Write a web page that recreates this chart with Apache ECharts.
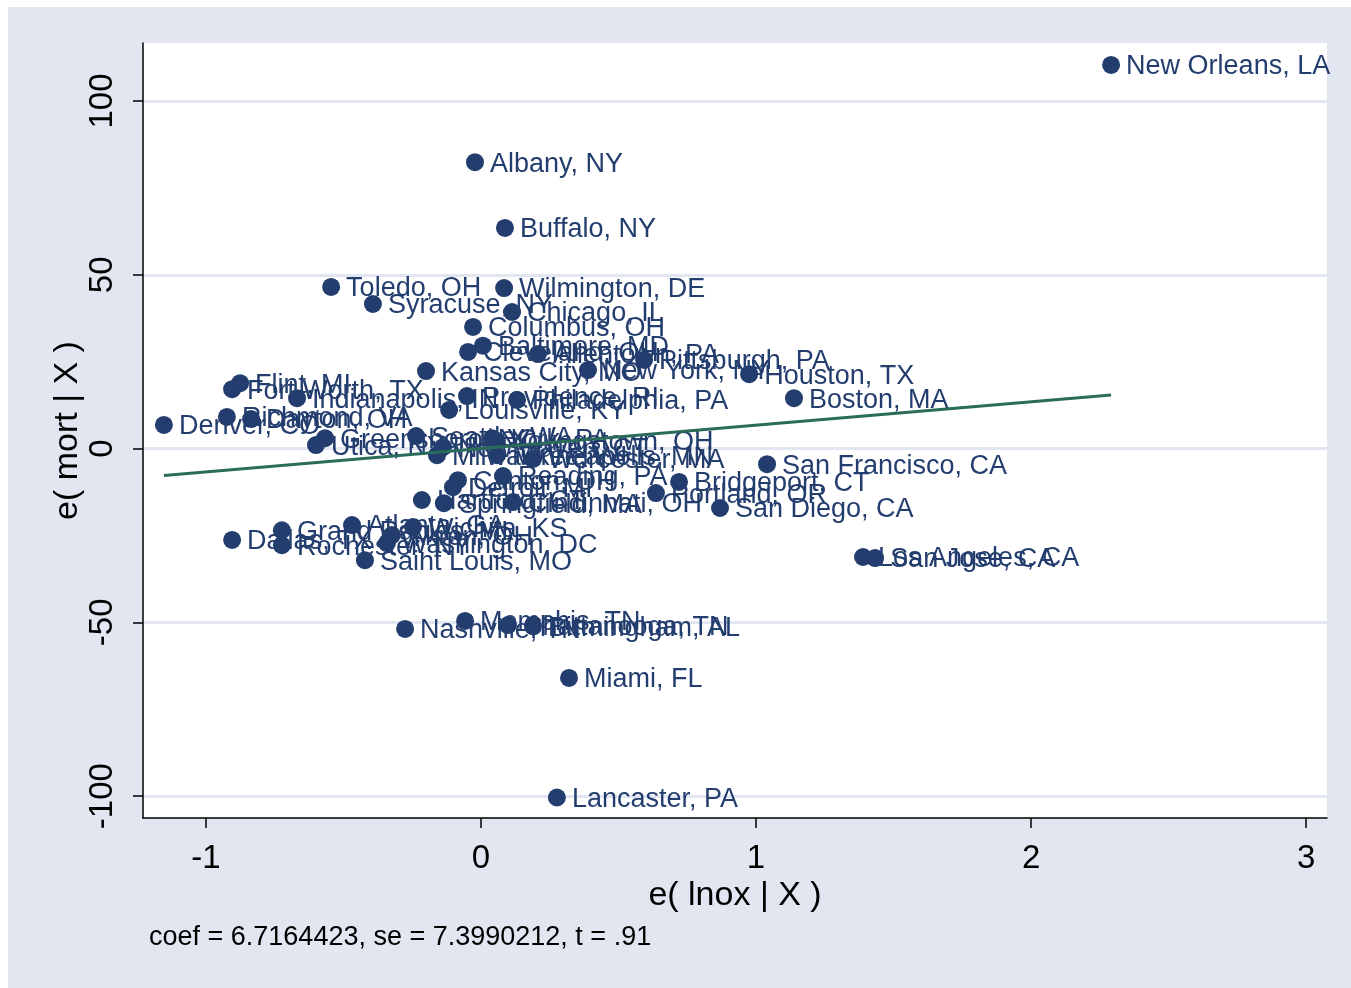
<!DOCTYPE html>
<html>
<head>
<meta charset="utf-8">
<script src="https://cdn.jsdelivr.net/npm/echarts@6/dist/echarts.min.js"></script>
<style>
html,body{margin:0;padding:0;background:#ffffff;}
#bg{position:absolute;left:8px;top:7px;width:1343px;height:981px;background:#e1e6f0;}
#chart{position:absolute;left:0;top:0;width:1351px;height:988px;}
</style>
</head>
<body>
<div id="bg"></div>
<div id="chart"></div>
<script>
const cities = ["New Orleans, LA","Albany, NY","Buffalo, NY","Toledo, OH","Wilmington, DE","Syracuse, NY","Chicago, IL","Columbus, OH","Baltimore, MD","Cleveland, OH","Allentown, PA","Pittsburgh, PA","Kansas City, MO","New York, NY","Houston, TX","Flint, MI","Fort Worth, TX","Indianapolis, IN","Providence, RI","Philadelphia, PA","Boston, MA","Louisville, KY","Richmond, VA","Dayton, OH","Denver, CO","Greensboro, NC","Utica, NY","Seattle, WA","York, PA","Youngstown, OH","New Haven, CT","Milwaukee, WI","Minneapolis, MN","Worcester, MA","San Francisco, CA","Canton, OH","Reading, PA","Detroit, MI","Bridgeport, CT","Portland, OR","Hartford, CT","Springfield, MA","Cincinnati, OH","San Diego, CA","Grand Rapids, MI","Atlanta, GA","Wichita, KS","Dallas, TX","Rochester, NY","Akron, OH","Washington, DC","Saint Louis, MO","Los Angeles, CA","San Jose, CA","Nashville, TN","Memphis, TN","Chattanooga, TN","Birmingham, AL","Miami, FL","Lancaster, PA"];
const eLnox = [2.291,-0.022,0.087,-0.545,0.084,-0.393,0.113,-0.029,0.007,-0.047,0.207,0.593,-0.200,0.389,0.975,-0.876,-0.905,-0.669,-0.051,0.131,1.138,-0.116,-0.924,-0.836,-1.153,-0.567,-0.600,-0.236,0.040,0.058,-0.138,-0.160,0.058,0.189,1.040,-0.084,0.080,-0.102,0.720,0.636,-0.215,-0.135,0.116,0.869,-0.724,-0.469,-0.247,-0.905,-0.724,-0.324,-0.342,-0.422,1.389,1.433,-0.276,-0.058,0.098,0.189,0.320,0.276];
const eMort = [110.4,82.4,63.5,46.5,46.2,41.6,39.3,35.0,29.6,27.8,27.2,25.5,22.3,22.6,21.4,18.8,17.1,14.5,15.1,14.0,14.5,11.1,9.1,8.5,6.8,3.0,1.0,3.6,3.0,2.2,0.4,-1.9,-1.9,-3.0,-4.5,-9.1,-7.9,-11.1,-9.6,-12.8,-14.8,-15.7,-15.4,-17.1,-23.5,-22.0,-22.6,-26.3,-27.8,-24.9,-27.2,-32.1,-31.2,-31.5,-51.9,-49.6,-50.8,-51.1,-66.0,-100.4];
const xTicks = [-1,0,1,2,3];
const yTicks = [-100,-50,0,50,100];
const coef = 6.7164423;
const noteText = "coef = 6.7164423, se = 7.3990212, t = .91";

const navy = '#233d6e';
const font = 'Liberation Sans, Arial, Helvetica, sans-serif';
const xMin = Math.min(...eLnox), xMax = Math.max(...eLnox);

const chart = echarts.init(document.getElementById('chart'));
chart.setOption({
  backgroundColor: 'transparent',
  animation: false,
  grid: {left: 143, right: 24, top: 43, bottom: 170, show: true, backgroundColor: '#ffffff', borderWidth: 0},
  xAxis: {
    type: 'value', min: -1.229, max: 3.076,
    name: 'e( lnox | X )', nameLocation: 'middle', nameGap: 61, nameMoveOverlap: false,
    nameTextStyle: {fontFamily: font, fontSize: 34, color: '#000'},
    axisLine: {show: true, onZero: false, lineStyle: {color: '#000', width: 1.5}},
    axisTick: {show: true, length: 10, lineStyle: {color: '#000', width: 1.5}, customValues: xTicks},
    axisLabel: {fontFamily: font, fontSize: 33, color: '#000', margin: 24, customValues: xTicks, formatter: v => String(v)},
    splitLine: {show: false}
  },
  yAxis: {
    type: 'value', min: -106.3, max: 116.7,
    name: 'e( mort | X )', nameLocation: 'middle', nameGap: 58, nameMoveOverlap: false,
    nameTextStyle: {fontFamily: font, fontSize: 34, color: '#000'},
    axisLine: {show: true, onZero: false, lineStyle: {color: '#000', width: 1.5}},
    axisTick: {show: true, length: 10, lineStyle: {color: '#000', width: 1.5}, customValues: yTicks},
    axisLabel: {fontFamily: font, fontSize: 33, color: '#000', margin: 24, rotate: 90, customValues: yTicks, formatter: v => String(v)},
    splitLine: {show: false}
  },
  graphic: [{
    type: 'text', left: 149, top: 924,
    style: {text: noteText, fontFamily: font, fontSize: 27, fill: '#000'}
  }],
  series: [
    {
      type: 'line', data: [], z: 0, silent: true,
      markLine: {
        silent: true, symbol: 'none', label: {show: false}, z: 0,
        lineStyle: {color: '#e1e6f0', width: 3, type: 'solid', opacity: 1},
        data: yTicks.map(v => ({yAxis: v}))
      }
    },
    {
      type: 'scatter', z: 3,
      symbol: 'circle', symbolSize: 18,
      itemStyle: {color: navy, opacity: 1},
      label: {show: true, position: 'right', distance: 6, offset: [0, 2], formatter: p => p.name,
        fontFamily: font, fontSize: 27, color: navy, opacity: 1},
      data: cities.map((c, i) => ({name: c, value: [eLnox[i], eMort[i]]}))
    },
    {
      type: 'line', z: 4, symbol: 'none', silent: true,
      lineStyle: {color: '#2b6b5a', width: 3},
      data: [[xMin, coef * xMin], [xMax, coef * xMax]]
    }
  ]
});
</script>
</body>
</html>
